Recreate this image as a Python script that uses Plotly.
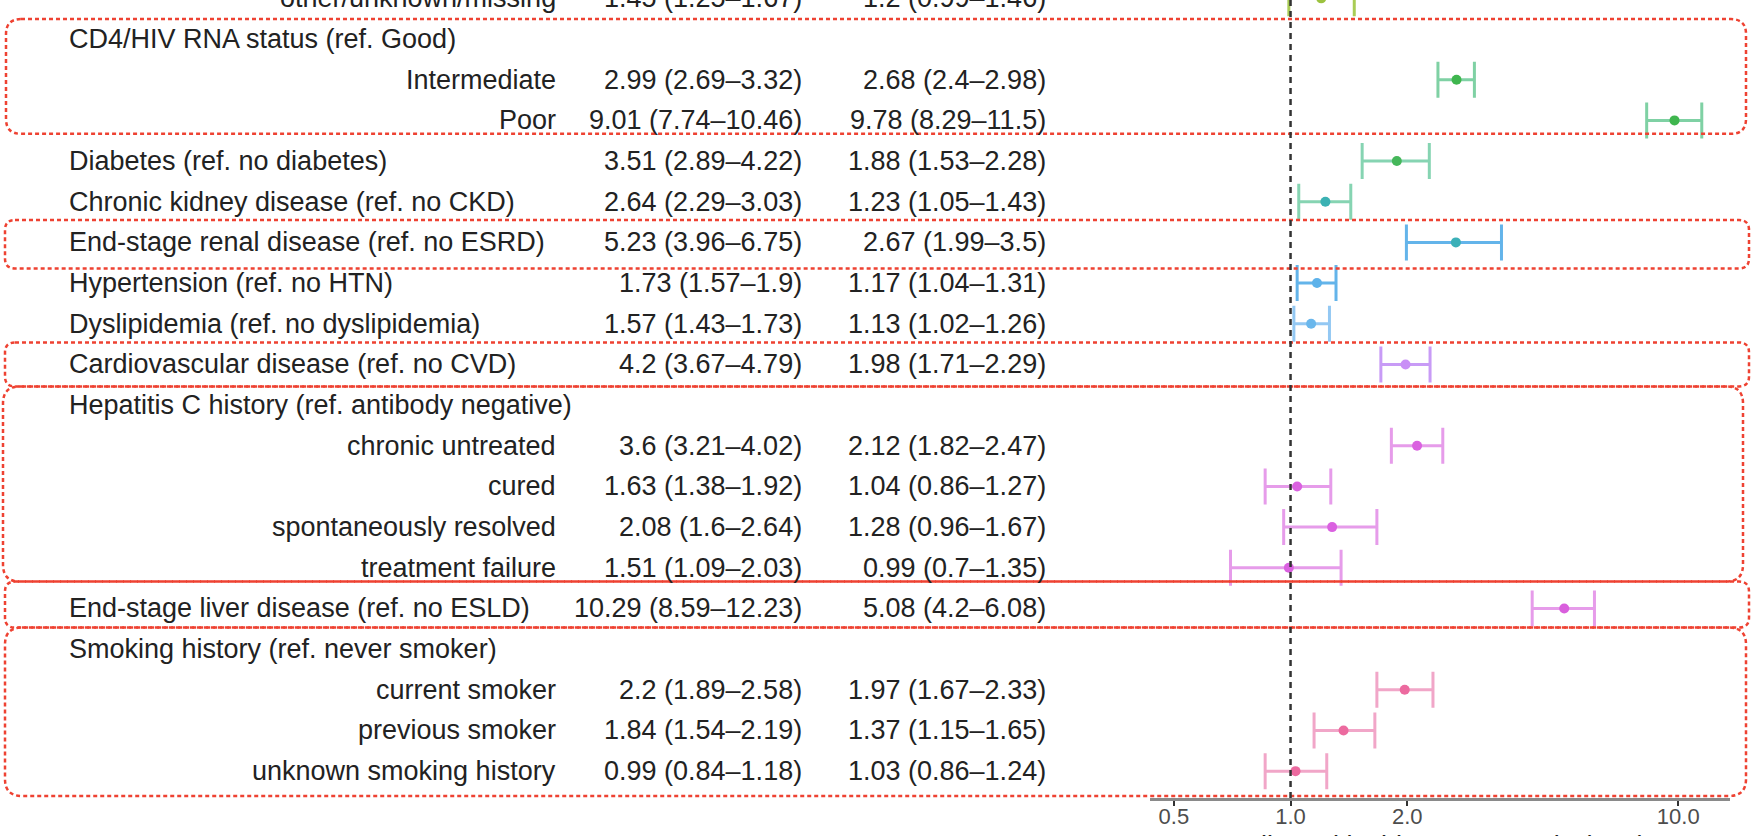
import plotly.graph_objects as go

W, H = 1758, 836

# ---- table rows, top to bottom -------------------------------------------
row_labels = [
    "other/unknown/missing",
    "CD4/HIV RNA status (ref. Good)",
    "Intermediate",
    "Poor",
    "Diabetes (ref. no diabetes)",
    "Chronic kidney disease (ref. no CKD)",
    "End-stage renal disease (ref. no ESRD)",
    "Hypertension (ref. no HTN)",
    "Dyslipidemia (ref. no dyslipidemia)",
    "Cardiovascular disease (ref. no CVD)",
    "Hepatitis C history (ref. antibody negative)",
    "chronic untreated",
    "cured",
    "spontaneously resolved",
    "treatment failure",
    "End-stage liver disease (ref. no ESLD)",
    "Smoking history (ref. never smoker)",
    "current smoker",
    "previous smoker",
    "unknown smoking history",
]
# "level" rows are indented (right-aligned) categories of a variable above
row_kind = [
    "level", "header", "level", "level", "var", "var", "var", "var", "var",
    "var", "header", "level", "level", "level", "level", "var", "header",
    "level", "level", "level",
]

# crude incidence rate ratios with 95% CI
crude_irr = [1.45, None, 2.99, 9.01, 3.51, 2.64, 5.23, 1.73, 1.57, 4.2,
             None, 3.6, 1.63, 2.08, 1.51, 10.29, None, 2.2, 1.84, 0.99]
crude_lo = [1.25, None, 2.69, 7.74, 2.89, 2.29, 3.96, 1.57, 1.43, 3.67,
            None, 3.21, 1.38, 1.6, 1.09, 8.59, None, 1.89, 1.54, 0.84]
crude_hi = [1.67, None, 3.32, 10.46, 4.22, 3.03, 6.75, 1.9, 1.73, 4.79,
            None, 4.02, 1.92, 2.64, 2.03, 12.23, None, 2.58, 2.19, 1.18]

# adjusted incidence rate ratios with 95% CI (plotted)
adj_irr = [1.2, None, 2.68, 9.78, 1.88, 1.23, 2.67, 1.17, 1.13, 1.98,
           None, 2.12, 1.04, 1.28, 0.99, 5.08, None, 1.97, 1.37, 1.03]
adj_lo = [0.99, None, 2.4, 8.29, 1.53, 1.05, 1.99, 1.04, 1.02, 1.71,
          None, 1.82, 0.86, 0.96, 0.7, 4.2, None, 1.67, 1.15, 0.86]
adj_hi = [1.46, None, 2.98, 11.5, 2.28, 1.43, 3.5, 1.31, 1.26, 2.29,
          None, 2.47, 1.27, 1.67, 1.35, 6.08, None, 2.33, 1.65, 1.24]

tick_vals = [0.5, 1.0, 2.0, 10.0]
tick_text = ["0.5", "1.0", "2.0", "10.0"]
x_title = "Adjusted incidence rate ratio (IRR)"

# ---- styling ---------------------------------------------------------------
point_colors = [
    "#9cc23f", None, "#3fb64e", "#3fb64e", "#45b75a", "#3bb1b3", "#3bb0b8",
    "#5db2ea", "#6ab7ec", "#c98ff6", None, "#da61e0", "#da61e0", "#da61e0",
    "#da61e0", "#d95fdd", None, "#ec6a9f", "#ec6a9f", "#ec6a9f",
]
bar_colors = [
    "#a9cc55", None, "#7fd1a4", "#7fd1a4", "#86d4b2", "#86d4b2", "#63b4ea",
    "#63b4ea", "#93c8f3", "#c89bf6", None, "#e69cea", "#e69cea", "#e69cea",
    "#e69cea", "#e69cea", None, "#f1a6c8", "#f1a6c8", "#f1a6c8",
]
FONT = "Liberation Sans, Arial, sans-serif"
TEXT = "#222222"
TXT_SIZE = 27
BOX_RED = "#ee4232"

# text column anchors (px)
X_HEADER, X_LEVEL, X_CRUDE, X_ADJ = 67, 558, 804, 1048

# group outlines: (first row edge, last row edge, left px, right px, radius px)
group_boxes = [
    (0.51, 3.33, 6, 1746, 15),
    (5.45, 6.64, 5, 1749, 10),
    (8.46, 9.54, 5, 1749, 10),
    (9.54, 14.34, 3, 1743, 17),
    (14.34, 15.47, 5, 1749, 10),
    (15.47, 19.61, 5, 1746, 17),
]

Y_TOP, Y_BOT = 0.04, 19.66           # row-index range of the panel
PANEL_BOTTOM_PX = 798
ROW_PX = PANEL_BOTTOM_PX / (Y_BOT - Y_TOP)


def fmt(v):
    return f"{v:g}"


def ci_text(e, lo, hi):
    return f"{fmt(e)} ({fmt(lo)}\u2013{fmt(hi)})"


fig = go.Figure()

# forest plot marks
for i, e in enumerate(adj_irr):
    if e is None:
        continue
    fig.add_trace(go.Scatter(
        x=[e], y=[i], mode="markers",
        marker=dict(size=10, color=point_colors[i]),
        error_x=dict(type="data", symmetric=False,
                     array=[adj_hi[i] - e], arrayminus=[e - adj_lo[i]],
                     color=bar_colors[i], thickness=3, width=18),
        hoverinfo="skip", showlegend=False,
    ))

# table text
ann = []
for i, lab in enumerate(row_labels):
    row_ann = []
    if row_kind[i] == "level":
        row_ann.append(dict(x=X_LEVEL / W, xanchor="right", text=lab))
    else:
        row_ann.append(dict(x=X_HEADER / W, xanchor="left", text=lab))
    if crude_irr[i] is not None:
        row_ann.append(dict(x=X_CRUDE / W, xanchor="right",
                            text=ci_text(crude_irr[i], crude_lo[i], crude_hi[i])))
        row_ann.append(dict(x=X_ADJ / W, xanchor="right",
                            text=ci_text(adj_irr[i], adj_lo[i], adj_hi[i])))
    # rows sitting above the panel top are anchored at the edge and shifted up
    y_anchor = max(i, Y_TOP)
    for a in row_ann:
        a.update(y=y_anchor, yshift=(y_anchor - i) * ROW_PX)
    ann.extend(row_ann)

for a in ann:
    a.update(xref="paper", yref="y", yanchor="middle", showarrow=False,
             font=dict(family=FONT, size=TXT_SIZE, color=TEXT))
    fig.add_annotation(**a)

# x-axis title (runs off the lower edge of the page)
fig.add_annotation(x=1440 / W, xref="paper", y=(H - 829) / H, yref="paper",
                   xanchor="center", yanchor="top", showarrow=False,
                   text=x_title, font=dict(family=FONT, size=27, color=TEXT))

# rounded dashed outlines around variable groups
for top, bot, lpx, rpx, r in group_boxes:
    x0, x1 = lpx / W, rpx / W
    rx, ry = r / W, r / ROW_PX
    path = (f"M {x0 + rx},{top} L {x1 - rx},{top} Q {x1},{top} {x1},{top + ry} "
            f"L {x1},{bot - ry} Q {x1},{bot} {x1 - rx},{bot} "
            f"L {x0 + rx},{bot} Q {x0},{bot} {x0},{bot - ry} "
            f"L {x0},{top + ry} Q {x0},{top} {x0 + rx},{top} Z")
    fig.add_shape(type="path", path=path, xref="paper", yref="y",
                  line=dict(color=BOX_RED, width=2.5, dash="4px,3px"),
                  fillcolor="rgba(0,0,0,0)", layer="above")

# null-effect reference line
fig.add_shape(type="line", x0=1, x1=1, y0=0, y1=1, xref="x", yref="y domain",
              line=dict(color="#333333", width=2.5, dash="6px,5px"),
              layer="above")

fig.update_layout(
    width=W, height=H,
    margin=dict(l=0, r=0, t=0, b=0),
    paper_bgcolor="white", plot_bgcolor="white",
    xaxis=dict(
        type="log", domain=[1150 / W, 1730 / W],
        range=[-0.3625, 1.1335],
        tickvals=tick_vals, ticktext=tick_text,
        ticks="outside", ticklen=5, tickwidth=2, tickcolor="#333333",
        ticklabelstandoff=-8,
        showline=True, linecolor="#8a8a8a", linewidth=2.5,
        showgrid=False, zeroline=False,
        tickfont=dict(family=FONT, size=22, color="#4d4d4d"),
    ),
    yaxis=dict(
        domain=[(H - PANEL_BOTTOM_PX) / H, 1],
        range=[Y_BOT, Y_TOP], visible=False,
        showgrid=False, zeroline=False,
    ),
)

fig.write_html("out.html")
